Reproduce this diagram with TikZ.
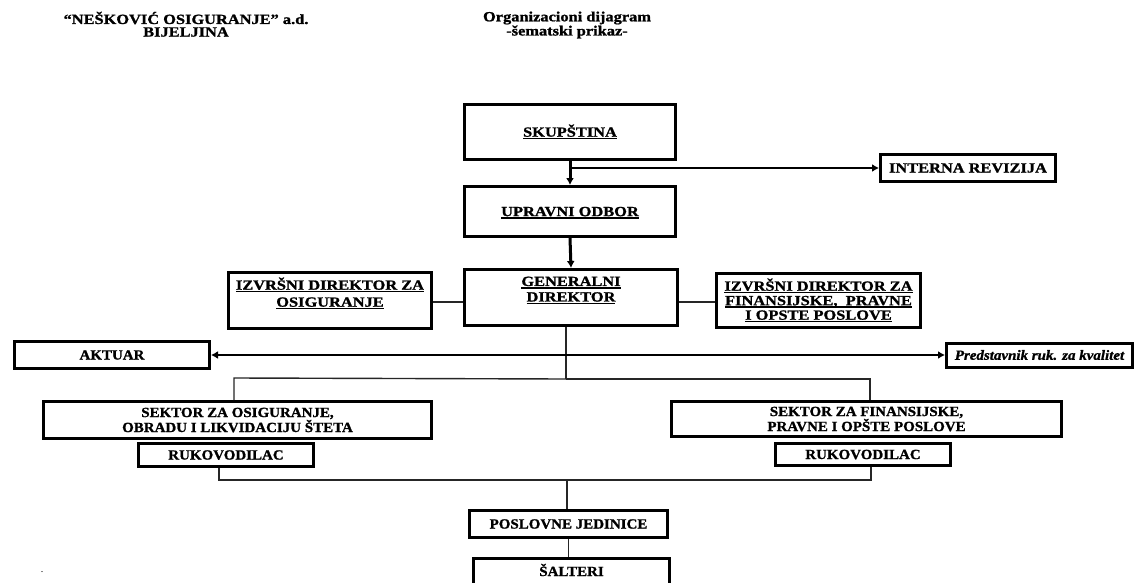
\documentclass[tikz,border=0pt]{standalone}
\usepackage{fontspec}
\setmainfont{Liberation Serif}
\newfontfamily\widef{Liberation Serif}[FakeStretch=1.17,FakeBold=1.2]
\newfontfamily\narrf{Liberation Serif}[FakeStretch=1.07,FakeBold=1.2]
\usetikzlibrary{arrows.meta}
\newcommand\ulx[1]{\setbox0\hbox{#1}\leavevmode\rlap{\rule[-2.8pt]{\wd0}{1.6pt}}\box0}
\tikzset{
  boxw/.style={draw, line width=3pt, inner sep=0pt, align=center,
    font=\widef\bfseries\fontsize{14pt}{15.5pt}\selectfont},
  boxn/.style={draw, line width=3pt, inner sep=0pt, align=center,
    font=\narrf\bfseries\fontsize{14pt}{15pt}\selectfont},
  wh/.style 2 args={minimum width=#1pt, minimum height=#2pt},
  txtw/.style={inner sep=0pt, align=center, font=\widef\bfseries\fontsize{14pt}{15.5pt}\selectfont},
  txtn/.style={inner sep=0pt, align=center, font=\narrf\bfseries\fontsize{14pt}{15pt}\selectfont},
  conn/.style={line width=1.4pt, draw=black!85},
  thickarrow/.style={line width=3pt, -{Latex[length=7pt,width=8pt]}},
  midarrow/.style={line width=2pt, -{Latex[length=7pt,width=8pt]}},
}
\begin{document}
\begin{tikzpicture}[x=1pt,y=-1pt]
\clip (0,0) rectangle (1137,583);
\fill[white] (0,0) rectangle (1137,583);

% headers
\node[txtw] (h1) at (186,18) {“NEŠKOVIĆ OSIGURANJE” a.d.};
\node[txtw] (h2) at (186,32) {BIJELJINA};
\node[txtw] (h3) at (567,18) {Organizacioni dijagram};
\node[txtw] (h4) at (567,32) {-šematski prikaz-};

% top chain
\node[boxw, wh={211}{55}] (skup) at (570,132) {\ulx{SKUPŠTINA}};
\node[boxw, wh={211}{50}, text depth=-3pt] (upr) at (570,211.5) {\ulx{UPRAVNI ODBOR}};
\node[boxw, wh={175}{27}] (interna) at (968,168) {INTERNA REVIZIJA};

\node[boxw, wh={213}{56}] (gen) at (571,297.5) {};
\node[txtw] (gent) at (571,290.5) {\ulx{GENERALNI}\\\ulx{DIREKTOR}};

\node[boxw, line width=3.5pt, wh={203}{56}] (lexec) at (330,300.5) {};
\node[txtw, font=\widef\bfseries\fontsize{14pt}{17pt}\selectfont] (lexect) at (330,293.5) {\ulx{IZVRŠNI DIREKTOR ZA}\\\ulx{OSIGURANJE}};

\node[boxw, font=\widef\bfseries\fontsize{14pt}{14.5pt}\selectfont, wh={204}{54}] (rexec) at (818.5,300.5)
  {\ulx{IZVRŠNI DIREKTOR ZA}\\\ulx{FINANSIJSKE,\ \ PRAVNE}\\\ulx{I OPSTE POSLOVE}};

\node[boxn, wh={195}{27}] (aktuar) at (112,355) {AKTUAR};
\node[boxn, font=\narrf\bfseries\itshape\fontsize{14pt}{15pt}\selectfont, wh={186}{24}] (pred) at (1039.5,355) {Predstavnik ruk. za kvalitet};

\node[boxn, wh={388}{37}] (secL) at (237.5,420) {SEKTOR ZA OSIGURANJE,\\OBRADU I LIKVIDACIJU ŠTETA};
\node[boxn, wh={390}{35}] (secR) at (866.5,419) {SEKTOR ZA FINANSIJSKE,\\PRAVNE I OPŠTE POSLOVE};

\node[boxn, wh={175}{23}] (rukL) at (226,455) {RUKOVODILAC};
\node[boxn, wh={175}{22}] (rukR) at (863,454.5) {RUKOVODILAC};

\node[boxn, line width=3.5pt, wh={198}{27}] (posl) at (568.5,524) {POSLOVNE JEDINICE};
\node[boxn, wh={196}{40}] (salt) at (571.5,578.5) {};
\node[txtn] (saltt) at (571.5,570) {ŠALTERI};

\node[inner sep=0pt, font=\fontsize{10pt}{10pt}\selectfont] (dot) at (42,572) {.};

% connectors
\draw[thickarrow] (skup.south) -- (upr.north);
\coordinate (j1) at (570,168);
\draw[midarrow] (j1) -- (interna.west);
\draw[thickarrow] (upr.south) -- (gen.north);

\coordinate (cy) at (0,302);
\draw[conn] (lexec.east |- cy) -- (gen.west |- cy);
\draw[conn] (gen.east |- cy) -- (rexec.west |- cy);

\coordinate (ak) at (566,355);
\coordinate (br) at (566,379);
\draw[conn, line width=1.8pt] (gen.south -| br) -- (br);
\draw[midarrow] (ak) -- (aktuar.east);
\draw[midarrow] (ak) -- (pred.west);

\coordinate (bl) at (234,378);
\coordinate (brr) at (870,379);
\draw[conn] (br) -- (bl) -- (bl |- secL.north);
\draw[conn] (br) -- (brr) -- (brr |- secR.north);

\coordinate (bl2) at (219,480);
\coordinate (br2) at (871,480);
\coordinate (bm) at (567,480);
\draw[conn] (rukL.south -| bl2) -- (bl2) -- (br2) -- (rukR.south -| br2);
\draw[conn] (bm) -- (posl.north -| bm);
\draw[conn] (posl.south) -- (posl.south |- salt.north);
\end{tikzpicture}
\end{document}
